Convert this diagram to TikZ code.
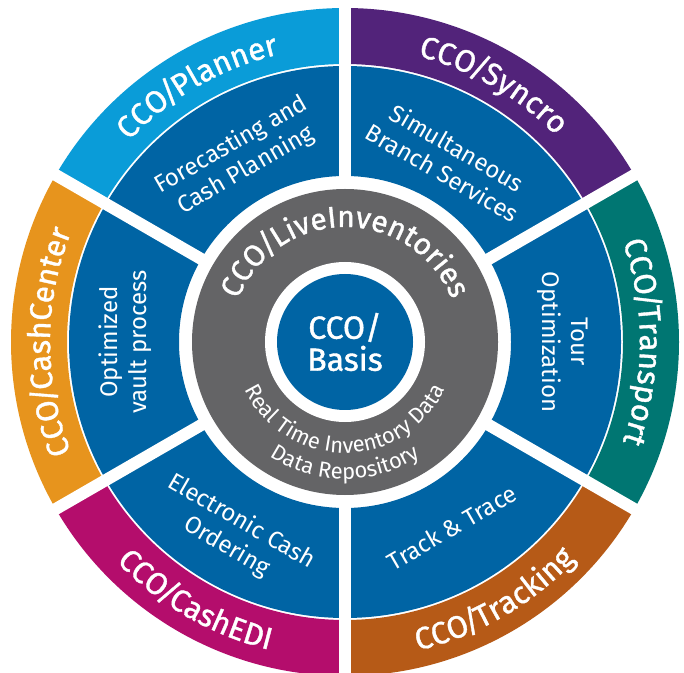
\documentclass[tikz,border=0pt]{standalone}
\usepackage{fontspec}
\setmainfont{Fira Sans}
\newfontfamily\medfont{Fira Sans}[FakeBold=1.2]
\usetikzlibrary{decorations.text}
\definecolor{cplanner}{HTML}{0A9CD8}
\definecolor{csyncro}{HTML}{52237A}
\definecolor{ctransport}{HTML}{007672}
\definecolor{ctracking}{HTML}{B65A17}
\definecolor{ccashedi}{HTML}{B40D6C}
\definecolor{ccashcenter}{HTML}{E7941D}
\definecolor{cblue}{HTML}{0064A4}
\definecolor{cgrey}{HTML}{646466}
\newcommand{\annsec}[4]{\fill[#1] ({#2-30}:#3pt) arc[start angle={#2-30}, end angle={#2+30}, radius=#3pt] -- ({#2+30}:#4pt) arc[start angle={#2+30}, end angle={#2-30}, radius=#4pt] -- cycle;}
\newcommand{\bandfont}{\color{white}\medfont\fontsize{31}{31}\selectfont}
\newcommand{\livefont}{\color{white}\medfont\fontsize{30}{30}\selectfont}
\newcommand{\realfont}{\color{white}\fontsize{22}{22}\selectfont}
\tikzset{
  desc/.style={text=white, align=center, font=\fontsize{24}{29}\selectfont, inner sep=0pt},
  gapline/.style={white, line width=12pt},
  arctext/.style={decorate, decoration={text along path, text align=center, text={#1}}}
}
\begin{document}
\begin{tikzpicture}
\useasboundingbox (0,0) rectangle (684pt,672pt);
\fill[white] (0,0) rectangle (684pt,672pt);
\begin{scope}[shift={(345pt,330pt)}]
  % blue ring
  \fill[cblue, even odd rule] (0,0) circle (276pt) (0,0) circle (166pt);
  % outer bands
  \annsec{ctransport}{0}{278}{334}
  \annsec{csyncro}{60}{278}{334}
  \annsec{cplanner}{120}{278}{334}
  \annsec{ccashcenter}{180}{278}{334}
  \annsec{ccashedi}{240}{278}{334}
  \annsec{ctracking}{300}{278}{334}
  % gaps
  \foreach \a in {30,90,150,210,270,330}
    \draw[gapline] (\a:158pt) -- (\a:345pt);
  % grey ring and centre
  \fill[cgrey] (0,0) circle (153pt);
  \fill[white] (0,0) circle (80pt);
  \fill[cblue] (0,0) circle (68pt);
  \node[text=white, align=center, font=\medfont\fontsize{32}{32}\selectfont, inner sep=0pt] (basis) at (0,0) {CCO/\\Basis};
  % band labels (clockwise, tops outward)
  \path[arctext={|\bandfont|CCO{\kern-3pt/\kern-3pt}Transport}] (30:295pt) arc[start angle=30, end angle=-30, radius=295pt];
  \path[arctext={|\bandfont|CCO{\kern-3pt/\kern-3pt}Syncro}] (90:295pt) arc[start angle=90, end angle=30, radius=295pt];
  \path[arctext={|\bandfont|CCO{\kern-3pt/\kern-3pt}Planner}] (150:295pt) arc[start angle=150, end angle=90, radius=295pt];
  \path[arctext={|\bandfont|CCO{\kern-3pt/\kern-3pt}CashCenter}] (210:295pt) arc[start angle=210, end angle=150, radius=295pt];
  % band labels (counter-clockwise, tops inward)
  \path[arctext={|\bandfont|CCO{\kern-3pt/\kern-3pt}CashEDI}] (210:317pt) arc[start angle=210, end angle=270, radius=317pt];
  \path[arctext={|\bandfont|CCO{\kern-3pt/\kern-3pt}Tracking}] (270:317pt) arc[start angle=270, end angle=330, radius=317pt];
  % grey ring labels
  \path[arctext={|\livefont|CCO{\kern-2pt/\kern-2pt}LiveInventories}] (178:115pt) arc[start angle=178, end angle=2, radius=115pt];
  \path[arctext={|\realfont|Real Time Inventory Data}] (185:111pt) arc[start angle=185, end angle=355, radius=111pt];
  \path[arctext={|\realfont|Data Repository}] (195:137pt) arc[start angle=195, end angle=345, radius=137pt];
  % descriptions in the blue ring
  \node[desc, rotate=30] (forecast) at (120:213pt) {Forecasting and\\Cash Planning};
  \node[desc, rotate=-30] (branch) at (60:210pt) {Simultaneous\\Branch Services};
  \node[desc, rotate=-90] (tour) at (0:218pt) {Tour\\Optimization};
  \node[desc, rotate=90] (vault) at (180:220pt) {Optimized\\vault process};
  \node[desc, rotate=-30] (order) at (240:222pt) {Electronic Cash\\Ordering};
  \node[desc, rotate=30] (track) at (300:214pt) {Track \& Trace};
\end{scope}
\end{tikzpicture}
\end{document}
